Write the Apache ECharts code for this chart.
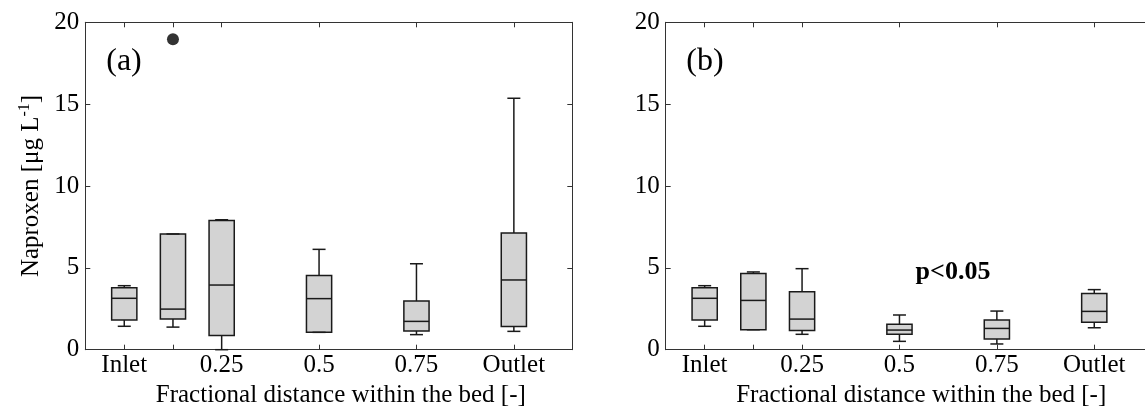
<!DOCTYPE html>
<html>
<head>
<meta charset="utf-8">
<script src="https://cdn.jsdelivr.net/npm/echarts@6/dist/echarts.min.js"></script>
<style>
  html, body { margin: 0; padding: 0; background: #fff; }
  #chart { width: 1145px; height: 406px; }
</style>
</head>
<body>
<div id="chart"></div>
<script>
// Sampling positions along the bed (0 = inlet, 1 = outlet)
const positions = [0, 0.125, 0.25, 0.5, 0.75, 1];
const tickValues = [0, 0.25, 0.5, 0.75, 1];
const tickLabels = ['Inlet', '0.25', '0.5', '0.75', 'Outlet'];

// Naproxen box statistics per position: [min, Q1, median, Q3, max] (µg/L)
const boxesA = [
  [1.43, 1.81, 3.14, 3.79, 3.91],
  [1.38, 1.87, 2.48, 7.07, 7.07],
  [0.00, 0.86, 3.95, 7.90, 7.94],
  [1.06, 1.06, 3.12, 4.54, 6.13],
  [0.92, 1.14, 1.73, 2.97, 5.25],
  [1.12, 1.41, 4.26, 7.13, 15.36]
];
const outliersA = [[0.125, 18.96]];

const boxesB = [
  [1.43, 1.81, 3.14, 3.79, 3.91],
  [1.22, 1.22, 3.01, 4.66, 4.75],
  [0.94, 1.18, 1.87, 3.54, 4.95],
  [0.51, 0.94, 1.20, 1.55, 2.12],
  [0.35, 0.65, 1.30, 1.81, 2.36],
  [1.34, 1.67, 2.34, 3.44, 3.67]
];

const FONT = 'Liberation Serif';
const AXIS_COLOR = '#333';
const X_MIN = -0.1, X_MAX = 1.15;

function labelFor(v) {
  const i = tickValues.findIndex(t => Math.abs(t - v) < 1e-9);
  return i >= 0 ? tickLabels[i] : '';
}

function xAxesFor(gridIndex) {
  const common = {
    type: 'value', gridIndex: gridIndex, min: X_MIN, max: X_MAX,
    axisLine: { onZero: false, lineStyle: { color: AXIS_COLOR, width: 1 } },
    axisTick: { inside: true, length: 5, customValues: positions, lineStyle: { color: AXIS_COLOR, width: 1 } },
    splitLine: { show: false }
  };
  return [
    Object.assign({}, common, {
      position: 'bottom',
      axisLabel: { customValues: tickValues, formatter: labelFor, color: '#000', fontFamily: FONT, fontSize: 25, margin: 3 },
      name: 'Fractional distance within the bed [-]',
      nameLocation: 'middle', nameGap: 29,
      nameTextStyle: { color: '#000', fontFamily: FONT, fontSize: 25, padding: [0, 0, 0, 24] }
    }),
    Object.assign({}, common, { position: 'top', axisLabel: { show: false } })
  ];
}

function yAxesFor(gridIndex, withName) {
  const common = {
    type: 'value', gridIndex: gridIndex, min: 0, max: 20, interval: 5,
    axisLine: { onZero: false, lineStyle: { color: AXIS_COLOR, width: 1 } },
    axisTick: { inside: true, length: 5, lineStyle: { color: AXIS_COLOR, width: 1 } },
    splitLine: { show: false }
  };
  const left = Object.assign({}, common, {
    position: 'left',
    axisLabel: { color: '#000', fontFamily: FONT, fontSize: 25, margin: 6 }
  });
  if (withName) {
    Object.assign(left, {
      name: 'Naproxen [μg L{sup|-1}]',
      nameLocation: 'middle', nameRotate: 90, nameGap: 39,
      nameTextStyle: {
        color: '#000', fontFamily: FONT, fontSize: 25, lineHeight: 30,
        rich: { sup: { fontFamily: FONT, fontSize: 16, color: '#000', verticalAlign: 'top', lineHeight: 30 } }
      }
    });
  }
  const right = Object.assign({}, common, { position: 'right', axisLabel: { show: false } });
  return [left, right];
}

// Box-and-whisker glyph, placed through the grid's own axes
function renderBox(params, api) {
  const x = api.value(0);
  const lo = api.coord([x, api.value(1)]);
  const q1 = api.coord([x, api.value(2)]);
  const md = api.coord([x, api.value(3)]);
  const q3 = api.coord([x, api.value(4)]);
  const hi = api.coord([x, api.value(5)]);
  const cx = md[0];
  const bw = 12.6, cw = 6.5;
  const st = { stroke: '#1a1a1a', lineWidth: 1.5, fill: null };
  return {
    type: 'group',
    children: [
      { type: 'rect', shape: { x: cx - bw, y: q3[1], width: 2 * bw, height: q1[1] - q3[1] },
        style: { fill: '#d3d3d3', stroke: '#1a1a1a', lineWidth: 1.5 } },
      { type: 'line', shape: { x1: cx, y1: q3[1], x2: cx, y2: hi[1] }, style: st },
      { type: 'line', shape: { x1: cx, y1: q1[1], x2: cx, y2: lo[1] }, style: st },
      { type: 'line', shape: { x1: cx - cw, y1: hi[1], x2: cx + cw, y2: hi[1] }, style: st },
      { type: 'line', shape: { x1: cx - cw, y1: lo[1], x2: cx + cw, y2: lo[1] }, style: st },
      { type: 'line', shape: { x1: cx - bw, y1: md[1], x2: cx + bw, y2: md[1] }, style: st }
    ]
  };
}

function boxSeries(boxes, axisIndex) {
  return {
    type: 'custom', xAxisIndex: axisIndex, yAxisIndex: axisIndex,
    renderItem: renderBox,
    encode: { x: 0, y: [1, 2, 3, 4, 5] },
    data: positions.map((p, i) => [p].concat(boxes[i])),
    silent: true
  };
}

const xA = xAxesFor(0), xB = xAxesFor(1);
const yA = yAxesFor(0, true), yB = yAxesFor(1, false);

const option = {
  animation: false,
  backgroundColor: '#fff',
  grid: [
    { left: 85.3, top: 22.3, width: 487, height: 327.4, outerBoundsMode: 'none' },
    // right-hand panel runs past the canvas edge
    { left: 665.7, top: 22.3, width: 487, height: 327.4, outerBoundsMode: 'none' }
  ],
  xAxis: [xA[0], xA[1], xB[0], xB[1]],
  yAxis: [yA[0], yA[1], yB[0], yB[1]],
  series: [
    boxSeries(boxesA, 0),
    {
      type: 'scatter', xAxisIndex: 0, yAxisIndex: 0,
      data: outliersA, symbol: 'circle', symbolSize: 12,
      itemStyle: { color: '#000' }, silent: true
    },
    boxSeries(boxesB, 2)
  ],
  graphic: [
    { type: 'text', x: 124, y: 62, style: { text: '(a)', font: '32px "Liberation Serif"', fill: '#000', align: 'center', verticalAlign: 'middle' } },
    { type: 'text', x: 705, y: 62, style: { text: '(b)', font: '32px "Liberation Serif"', fill: '#000', align: 'center', verticalAlign: 'middle' } },
    { type: 'text', x: 953, y: 272, style: { text: 'p<0.05', font: 'bold 26px "Liberation Serif"', fill: '#000', align: 'center', verticalAlign: 'middle' } }
  ]
};

const chart = echarts.init(document.getElementById('chart'), null, { renderer: 'canvas' });
chart.setOption(option);
</script>
</body>
</html>
